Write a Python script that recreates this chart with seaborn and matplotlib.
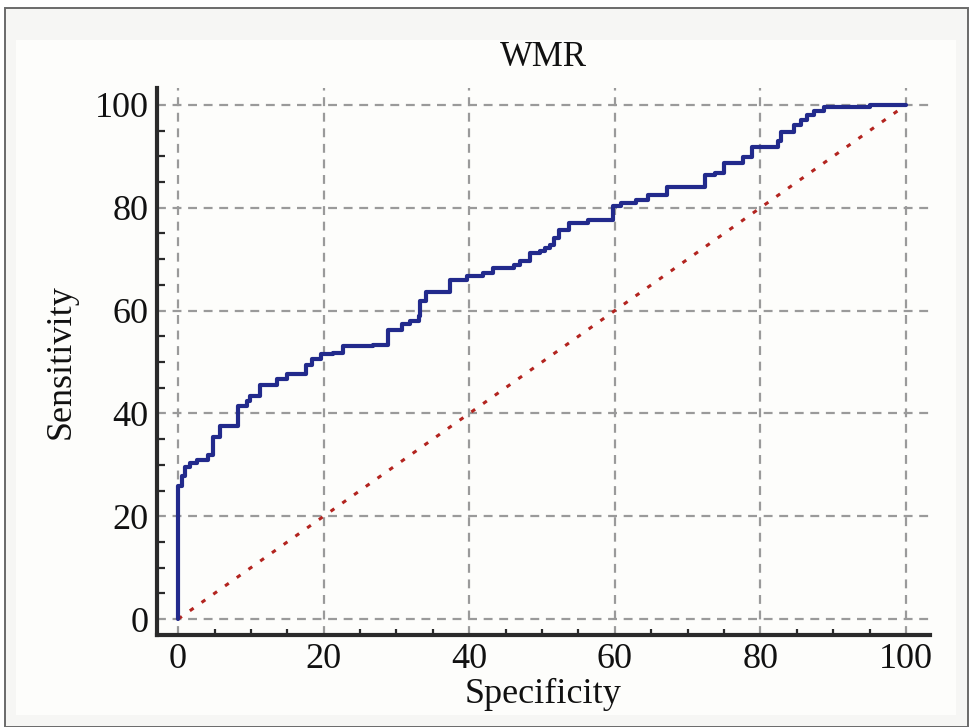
import matplotlib
matplotlib.use("Agg")
import matplotlib.pyplot as plt
import pandas as pd
import seaborn as sns
from matplotlib.patches import Rectangle
from matplotlib.ticker import MultipleLocator

# ROC curve corners, drawn as a post-step line
specificity = [0, 0, 0.5, 1.0, 1.6, 2.6, 4.1, 4.8, 5.8, 8.2, 9.4, 9.9, 11.3, 13.6,
               14.9, 17.6, 18.4, 19.7, 21.3, 22.7, 26.8, 28.8, 30.7, 31.9, 33.1,
               33.3, 34.0, 37.3, 39.7, 41.9, 43.3, 46.1, 47.0, 48.3, 49.7, 50.4,
               51.1, 51.6, 52.3, 53.7, 56.3, 59.7, 60.8, 62.9, 64.6, 67.2, 72.4,
               73.8, 75.0, 77.6, 78.8, 78.9, 82.4, 82.8, 84.6, 85.6, 86.4, 87.3,
               88.7, 95.1, 100]
sensitivity = [0, 25.8, 27.8, 29.5, 30.3, 31.0, 32.0, 35.5, 37.6, 41.4, 42.4, 43.4,
               45.6, 46.6, 47.6, 49.5, 50.5, 51.5, 51.8, 53.1, 53.4, 56.3, 57.3,
               57.9, 58.9, 61.8, 63.6, 66.0, 66.8, 67.3, 68.2, 68.9, 69.6, 71.2,
               71.5, 72.2, 72.8, 74.1, 75.7, 77.0, 77.6, 80.3, 81.0, 81.6, 82.5,
               84.0, 86.4, 86.7, 88.7, 89.8, 90.3, 91.9, 92.9, 94.7, 96.1, 97.1,
               98.1, 98.9, 99.6, 100, 100]

# reference diagonal
diag_x = [0, 100]
diag_y = [0, 100]

ticks = [0, 20, 40, 60, 80, 100]

roc = pd.DataFrame({"Specificity": specificity, "Sensitivity": sensitivity})
ref = pd.DataFrame({"Specificity": diag_x, "Sensitivity": diag_y})

sns.set_theme(style="white")
plt.rcParams["font.family"] = ["Liberation Serif", "DejaVu Serif"]
plt.rcParams["text.color"] = "#111111"
plt.rcParams["axes.labelcolor"] = "#111111"
plt.rcParams["xtick.labelcolor"] = "#111111"
plt.rcParams["ytick.labelcolor"] = "#111111"

fig = plt.figure(figsize=(9.7, 7.27), dpi=100, facecolor="white")

# outer frame of the picture
fig.patches.append(Rectangle((5 / 970, 0), 963 / 970, 719 / 727, transform=fig.transFigure,
                             facecolor="#f6f6f4", edgecolor="#6a6a6a", lw=1.4, zorder=-2))
fig.patches.append(Rectangle((16 / 970, 12 / 727), 940 / 970, 675 / 727, transform=fig.transFigure,
                             facecolor="#fdfdfb", edgecolor="none", zorder=-1))

ax = fig.add_axes([157 / 970, 1 - 635 / 727, 773 / 970, 547 / 727])
ax.set_facecolor("#fdfdfb")

sns.lineplot(data=ref, x="Specificity", y="Sensitivity", ax=ax, color="#b3241f",
             linewidth=2.2, linestyle=(0, (1.5, 3.2)), estimator=None, zorder=3)
sns.lineplot(data=roc, x="Specificity", y="Sensitivity", ax=ax, color="#222a8c",
             linewidth=3.0, drawstyle="steps-post", estimator=None, sort=False, zorder=4)

ax.set_xlim(-2.9, 103.3)
ax.set_ylim(-3.1, 103.3)
ax.set_xticks(ticks)
ax.set_yticks(ticks)
ax.xaxis.set_minor_locator(MultipleLocator(5))
ax.yaxis.set_minor_locator(MultipleLocator(5))

ax.grid(True, which="major", color="#9a9a9a", linestyle=(0, (4, 3)), linewidth=1.6)
ax.set_axisbelow(True)

for side in ["top", "right"]:
    ax.spines[side].set_visible(False)
for side in ["left", "bottom"]:
    ax.spines[side].set_color("#2a2a2a")
    ax.spines[side].set_linewidth(3)

ax.tick_params(axis="y", which="major", direction="in", length=16, width=2, color="#2a2a2a",
               labelsize=26, pad=6)
ax.tick_params(axis="y", which="minor", direction="in", length=6, width=1.6, color="#2a2a2a", left=True)
ax.tick_params(axis="x", which="major", direction="in", length=11, width=2.5, color="#2a2a2a",
               labelsize=26, pad=6)
ax.tick_params(axis="x", which="minor", direction="in", length=4.5, width=1.6, color="#2a2a2a", bottom=True)

ax.set_title("WMR", fontsize=25, pad=16)
ax.set_xlabel("Specificity", fontsize=26, labelpad=1)
ax.set_ylabel("Sensitivity", fontsize=26, labelpad=12)

plt.savefig("out.png", dpi=100)
plt.close()
